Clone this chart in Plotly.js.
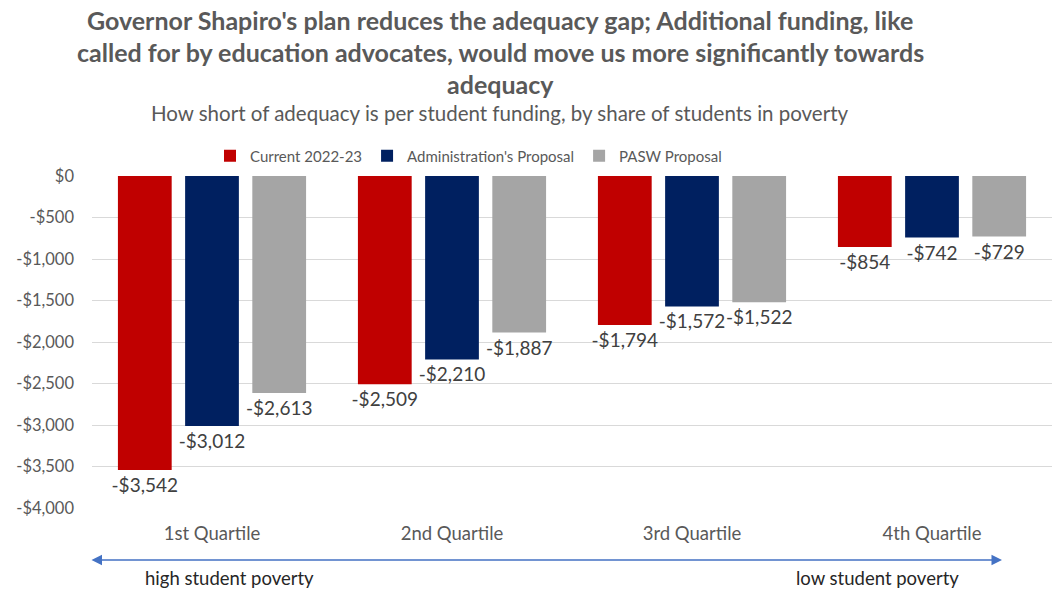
<!DOCTYPE html>
<html>
<head>
<meta charset="utf-8">
<script src="https://cdn.plot.ly/plotly-3.0.1.min.js"></script>
<style>html,body{margin:0;padding:0;background:#fff;}#chart{width:1057px;height:601px;}</style>
</head>
<body>
<div id="chart"></div>
<script>
const categories = ["1st Quartile", "2nd Quartile", "3rd Quartile", "4th Quartile"];
const seriesNames = ["Current 2022-23", "Administration's Proposal", "PASW Proposal"];
const current2223 = [-3542, -2509, -1794, -854];
const adminProposal = [-3012, -2210, -1572, -742];
const paswProposal = [-2613, -1887, -1522, -729];
const yTickVals = [0, -500, -1000, -1500, -2000, -2500, -3000, -3500, -4000];
const yTickText = ["$0", "-$500", "-$1,000", "-$1,500", "-$2,000", "-$2,500", "-$3,000", "-$3,500", "-$4,000"];
const titleLines = ["Governor Shapiro's plan reduces the adequacy gap; Additional funding, like",
  "called for by education advocates, would move us more significantly towards",
  "adequacy"];
const subtitle = "How short of adequacy is per student funding, by share of students in poverty";
const arrowLabels = ["high student poverty", "low student poverty"];

const colors = ["#C00000", "#002060", "#A5A5A5"];
const fmt = v => (v < 0 ? "-$" : "$") + Math.abs(v).toLocaleString("en-US");

const FONT = "Lato, 'Open Sans', sans-serif";
const all = [current2223, adminProposal, paswProposal];
const traces = all.map((vals, i) => ({
  type: "bar",
  name: seriesNames[i],
  x: categories,
  y: vals,
  text: vals.map(fmt),
  textposition: "outside",
  constraintext: "none",
  cliponaxis: false,
  textfont: {family: FONT, size: 19, color: "#404040"},
  marker: {color: colors[i], line: {width: 0}},
  hoverinfo: "x+y"
}));

const CX = (500 - 92) / 960;
const annotations = [];
titleLines.forEach((t, i) => annotations.push({
  xref: "paper", yref: "paper", x: CX, y: 1 + (176 - (20 + 32 * i)) / 332,
  xanchor: "center", yanchor: "middle", showarrow: false,
  text: "<b>" + t + "</b>",
  font: {family: FONT, size: 25, color: "#595959"}
}));
annotations.push({
  xref: "paper", yref: "paper", x: CX, y: 1 + (176 - 113) / 332,
  xanchor: "center", yanchor: "middle", showarrow: false,
  text: subtitle, font: {family: FONT, size: 20.5, color: "#595959"}
});
annotations.push({
  xref: "paper", yref: "paper", x: (1002 - 92) / 960, y: (508 - 560) / 332,
  ax: -(1002 - 90), ay: 0, axref: "pixel", ayref: "pixel",
  showarrow: true, text: "", arrowside: "end+start", arrowhead: 2, arrowsize: 1.4,
  arrowwidth: 1.5, arrowcolor: "#4472C4"
});
annotations.push({
  xref: "paper", yref: "paper", x: (229 - 92) / 960, y: (508 - 578) / 332,
  xanchor: "center", yanchor: "middle", showarrow: false,
  text: arrowLabels[0], font: {family: FONT, size: 18.5, color: "#262626"}
});
annotations.push({
  xref: "paper", yref: "paper", x: (877 - 92) / 960, y: (508 - 578) / 332,
  xanchor: "center", yanchor: "middle", showarrow: false,
  text: arrowLabels[1], font: {family: FONT, size: 18.5, color: "#262626"}
});

const layout = {
  width: 1057, height: 601,
  margin: {l: 92, r: 5, t: 176, b: 93},
  paper_bgcolor: "#fff", plot_bgcolor: "#fff",
  font: {family: FONT, color: "#595959"},
  barmode: "group",
  bargap: 0.16,
  bargroupgap: 0.2,
  showlegend: true,
  legend: {
    orientation: "h", xref: "paper", yref: "paper",
    x: (210 - 92) / 960, xanchor: "left", y: 1 + 20 / 332, yanchor: "middle",
    font: {family: FONT, size: 15, color: "#595959"},
    itemwidth: 30, traceorder: "normal", bgcolor: "rgba(0,0,0,0)"
  },
  xaxis: {
    type: "category", showgrid: false, zeroline: false, showline: false,
    ticks: "", tickfont: {family: FONT, size: 18.5, color: "#595959"},
    ticklabelstandoff: 12, fixedrange: true
  },
  yaxis: {
    range: [-4000, 0], tickvals: yTickVals, ticktext: yTickText,
    showgrid: true, gridcolor: "#D9D9D9", gridwidth: 1, zeroline: false, showline: false,
    ticks: "", tickfont: {family: FONT, size: 16.5, color: "#595959"},
    ticklabelstandoff: 17, fixedrange: true
  },
  annotations: annotations
};

Plotly.newPlot("chart", traces, layout, {displayModeBar: false, staticPlot: true});
</script>
</body>
</html>
